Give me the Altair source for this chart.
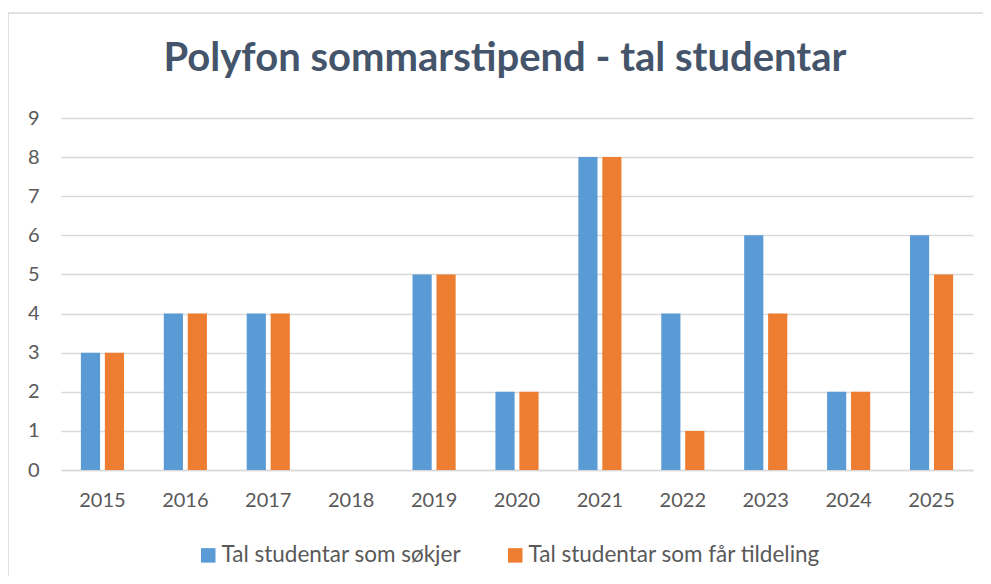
import altair as alt
import pandas as pd

years = ["2015", "2016", "2017", "2018", "2019", "2020", "2021", "2022", "2023", "2024", "2025"]
applicants = [3, 4, 4, 0, 5, 2, 8, 4, 6, 2, 6]
awarded = [3, 4, 4, 0, 5, 2, 8, 1, 4, 2, 5]
series = ["Tal studentar som søkjer", "Tal studentar som får tildeling"]
colors = ["#5B9BD5", "#ED7D31"]
y_ticks = [0, 1, 2, 3, 4, 5, 6, 7, 8, 9]

rows = []
for y, a, b in zip(years, applicants, awarded):
    rows.append({"year": y, "series": series[0], "value": a})
    rows.append({"year": y, "series": series[1], "value": b})
df = pd.DataFrame(rows)

FONT = "Lato"
LABEL_COLOR = "#595959"

bars = alt.Chart(df).mark_bar().encode(
    x=alt.X("year:N", sort=years, title=None,
            scale=alt.Scale(paddingInner=0.48, paddingOuter=0.24),
            axis=alt.Axis(labelAngle=0, ticks=False, domain=True, domainColor="#d9d9d9",
                          domainWidth=1.5, labelPadding=20, labelFontSize=20,
                          labelColor=LABEL_COLOR, labelFont=FONT, grid=False)),
    xOffset=alt.XOffset("series:N", sort=series,
                        scale=alt.Scale(paddingInner=0.2, paddingOuter=0)),
    y=alt.Y("value:Q", title=None,
            scale=alt.Scale(domain=[0, 9], nice=False),
            axis=alt.Axis(values=y_ticks, ticks=False, domain=False, grid=True,
                          gridColor="#d9d9d9", gridWidth=1.5, labelPadding=22,
                          labelFontSize=20, labelColor=LABEL_COLOR, labelFont=FONT)),
    color=alt.Color("series:N", sort=series,
                    scale=alt.Scale(domain=series, range=colors),
                    legend=alt.Legend(title=None, orient="none", legendX=136, legendY=426,
                                      direction="horizontal", symbolType="square",
                                      symbolSize=210, symbolStrokeWidth=0, labelLimit=500,
                                      labelFontSize=22.5, labelColor=LABEL_COLOR, labelFont=FONT,
                                      columnPadding=42, labelOffset=2)),
)

border = alt.Chart(pd.DataFrame({"k": [0]})).mark_rect(
    fill=None, stroke="#d9d9d9", strokeWidth=1.5
).encode(x=alt.value(-53), x2=alt.value(1000), y=alt.value(-105), y2=alt.value(500))

chart = alt.layer(border, bars).properties(
    width=912, height=352,
    padding={"left": 53, "top": 110, "right": 10, "bottom": 106},
    autosize=alt.AutoSizeParams(type="none"),
    title=alt.TitleParams("Polyfon sommarstipend - tal studentar", fontSize=40, font=FONT,
                          fontWeight="bold", color="#44546A", anchor="middle", offset=-67,
                          dx=-12),
).configure_view(stroke=None)

chart.save("out.html", embed_options={"renderer": "svg", "actions": False})
